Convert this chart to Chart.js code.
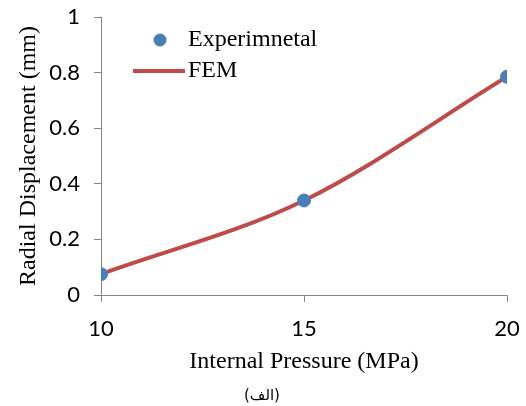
<!DOCTYPE html>
<html>
<head>
<meta charset="utf-8">
<script src="https://cdn.jsdelivr.net/npm/chart.js@4/dist/chart.umd.min.js"></script>
<style>
    body { margin: 0; background: #fff; }
    #wrap { position: relative; width: 526px; height: 406px; }
    #caption {
        position: absolute; left: 222px; width: 80px; top: 386px;
        text-align: center; font-family: "DejaVu Sans", sans-serif; font-size: 15px; color: #000;
    }
</style>
</head>
<body>
<div id="wrap">
    <canvas id="chart" width="526" height="406"></canvas>
    <div id="caption" dir="rtl">(الف)</div>
</div>
<script>
// Dữ liệu
const pressures = [10, 15, 20];
const experimental = [0.075, 0.34, 0.785];
const fem = [0.075, 0.34, 0.785];
const xTicks = [10, 15, 20];
const yTicks = [0, 0.2, 0.4, 0.6, 0.8, 1];
const yTickLabels = ['0', '0.2', '0.4', '0.6', '0.8', '1'];

const blue = '#4a7ebb';
const red = '#be4b48';
const axisColor = '#868686';

// Chú thích vẽ trong vùng biểu đồ
const legendPlugin = {
    id: 'insideLegend',
    afterDraw(chart) {
        const ctx = chart.ctx;
        const a = chart.chartArea;
        ctx.save();
        ctx.fillStyle = blue;
        ctx.beginPath();
        ctx.arc(a.left + 59, a.top + 23, 6.5, 0, Math.PI * 2);
        ctx.fill();
        ctx.strokeStyle = red;
        ctx.lineWidth = 4;
        ctx.beginPath();
        ctx.moveTo(a.left + 32, a.top + 54);
        ctx.lineTo(a.left + 84, a.top + 54);
        ctx.stroke();
        ctx.fillStyle = '#000';
        ctx.font = '24px "Liberation Serif", serif';
        ctx.textBaseline = 'middle';
        ctx.fillText('Experimnetal', a.left + 87, a.top + 23);
        ctx.fillText('FEM', a.left + 87, a.top + 54);
        ctx.restore();
    }
};

const ctx = document.getElementById('chart').getContext('2d');
new Chart(ctx, {
    type: 'scatter',
    data: {
        datasets: [
            {
                label: 'FEM',
                data: pressures.map((p, i) => ({ x: p, y: fem[i] })),
                showLine: true,
                borderColor: red,
                borderWidth: 4,
                cubicInterpolationMode: 'monotone',
                pointRadius: 0,
                order: 2
            },
            {
                label: 'Experimnetal',
                data: pressures.map((p, i) => ({ x: p, y: experimental[i] })),
                backgroundColor: blue,
                borderColor: blue,
                pointRadius: 6.5,
                pointHoverRadius: 6.5,
                order: 1
            }
        ]
    },
    options: {
        responsive: false,
        animation: false,
        layout: { padding: { top: 17, right: 19, bottom: 0, left: 0 } },
        plugins: { legend: { display: false }, tooltip: { enabled: false } },
        scales: {
            x: {
                type: 'linear',
                min: 10,
                max: 20,
                afterBuildTicks: s => { s.ticks = xTicks.map(v => ({ value: v })); },
                afterFit: s => { s.height = 111; s.paddingLeft = 0; s.paddingRight = 0; },
                grid: { drawOnChartArea: false, drawTicks: true, tickLength: 7, color: axisColor },
                border: { color: axisColor },
                ticks: { color: '#000', padding: 14, font: { family: 'Lato', size: 22 } },
                title: {
                    display: true,
                    text: 'Internal Pressure (MPa)',
                    color: '#000',
                    font: { family: '"Liberation Serif", serif', size: 24 },
                    padding: { top: 0, bottom: 30 }
                }
            },
            y: {
                min: 0,
                max: 1,
                afterBuildTicks: s => { s.ticks = yTicks.map(v => ({ value: v })); },
                afterFit: s => { s.width = 101; s.paddingTop = 0; s.paddingBottom = 0; },
                grid: { drawOnChartArea: false, drawTicks: true, tickLength: 7, color: axisColor },
                border: { color: axisColor },
                ticks: {
                    color: '#000',
                    padding: 14,
                    font: { family: 'Lato', size: 22 },
                    callback: (v, i) => yTickLabels[i]
                },
                title: {
                    display: true,
                    text: 'Radial Displacement (mm)',
                    color: '#000',
                    font: { family: '"Liberation Serif", serif', size: 24 },
                    padding: { top: 14, bottom: 0 }
                }
            }
        }
    },
    plugins: [legendPlugin]
});
</script>
</body>
</html>
